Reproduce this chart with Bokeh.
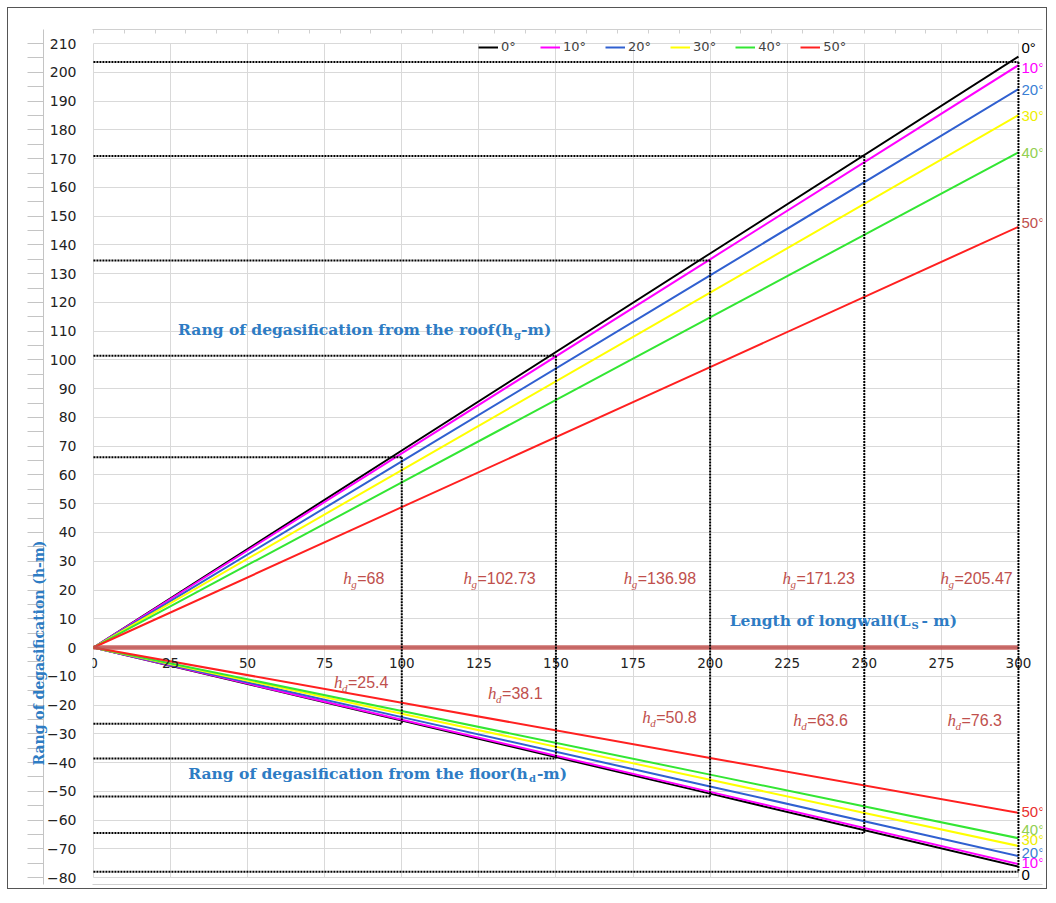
from bokeh.plotting import figure
from bokeh.models import (LinearAxis, SingleIntervalTicker, FixedTicker, Grid, Range1d,
                          Title, Legend, LegendItem, CustomJSTickFormatter)
from bokeh.core.properties import value
from bokeh.embed import file_html
from bokeh.resources import INLINE

# ---------------- data ----------------
angles = ["0°", "10°", "20°", "30°", "40°", "50°"]
line_colors = ["#000000", "#ff00ff", "#3060d0", "#ffff00", "#33e633", "#ff2020"]

length_L = [0, 100, 200, 300]
roof_0 = [0, 68.5, 137.0, 205.5]
roof_10 = [0, 67.5, 135.0, 202.5]
roof_20 = [0, 64.7, 129.4, 194.2]
roof_30 = [0, 61.7, 123.4, 185.1]
roof_40 = [0, 57.4, 114.8, 172.2]
roof_50 = [0, 48.8, 97.5, 146.3]
floor_0 = [0, -25.4, -50.8, -76.2]
floor_10 = [0, -25.1, -50.2, -75.3]
floor_20 = [0, -24.2, -48.3, -72.5]
floor_30 = [0, -23.0, -46.0, -69.0]
floor_40 = [0, -22.1, -44.2, -66.3]
floor_50 = [0, -19.2, -38.4, -57.5]
roof_series = [roof_0, roof_10, roof_20, roof_30, roof_40, roof_50]
floor_series = [floor_0, floor_10, floor_20, floor_30, floor_40, floor_50]

mark_L = [100, 150, 200, 250, 300]
hg_values = ["68", "102.73", "136.98", "171.23", "205.47"]
hd_values = ["25.4", "38.1", "50.8", "63.6", "76.3"]
roof_mark_levels = [66.2, 101.5, 134.6, 170.9, 203.6]
floor_mark_levels = [-26.5, -38.6, -51.8, -64.5, -78.0]

# annotation anchors
hg_label_x = [81, 120, 172, 223.5, 274.7]
hg_label_y = [24.0, 24.0, 24.0, 24.0, 24.0]
hd_label_x = [78, 128, 178, 227, 277]
hd_label_y = [-12.2, -16.0, -24.4, -25.4, -25.4]

top_end_labels = ["0°", "10°", "20°", "30°", "40°", "50°"]
top_end_y = [208.7, 201.8, 194.1, 185.0, 172.3, 147.9]
top_end_colors = ["#000000", "#ff00ff", "#3a7fd5", "#eeee00", "#92d050", "#c0504d"]
bot_end_labels = ["0", "10°", "20°", "30°", "40°", "50°"]
bot_end_y = [-79.0, -74.7, -71.2, -66.8, -63.3, -57.0]
bot_end_colors = ["#000000", "#ff00ff", "#3a7fd5", "#eeee00", "#92d050", "#e8302f"]

BLUE = "#2e7cc4"
LABEL_RED = "#c0504d"

# ---------------- figure ----------------
p = figure(width=1040, height=882,
           x_range=Range1d(-0.3, 307.8), y_range=Range1d(-82.4, 214.9),
           x_axis_location=None, y_axis_location=None,
           output_backend="svg", toolbar_location=None,
           min_border_left=84, min_border_right=6, min_border_top=21, min_border_bottom=6)
p.margin = (7, 0, 0, 7)
p.outline_line_color = None
p.xgrid.visible = False
p.ygrid.visible = False
p.background_fill_color = "white"
p.border_fill_color = "white"
p.styles = {"border": "1px solid #555555"}

blank = CustomJSTickFormatter(code="return ''")

# grids limited to the plot area
xg = Grid(dimension=0, ticker=SingleIntervalTicker(interval=25), grid_line_color="#d9d9d9",
          cross_bounds=(-80, 210))
yg = Grid(dimension=1, ticker=SingleIntervalTicker(interval=10), grid_line_color="#d9d9d9",
          cross_bounds=(0, 300))
p.add_layout(xg)
p.add_layout(yg)

# left: tick labels, grey line with outward ticks, then the title (pulled over the ticks)
y_lab = LinearAxis(ticker=SingleIntervalTicker(interval=10), axis_line_color=None,
                   major_tick_out=0, major_tick_in=0, minor_tick_line_color=None,
                   major_label_standoff=12, major_label_text_font="DejaVu Sans",
                   major_label_text_font_size="14px", major_label_text_color="#222222")
p.add_layout(y_lab, "left")
y_line = LinearAxis(ticker=SingleIntervalTicker(interval=5), formatter=blank,
                    axis_line_color="#c4c4c4", major_tick_line_color="#c4c4c4",
                    major_tick_out=16, major_tick_in=0, minor_tick_line_color=None,
                    major_label_standoff=0)
p.add_layout(y_line, "left")
p.add_layout(Title(text="Rang of degasification (h-m)", align="left", offset=119,
                   standoff=-38, text_font="DejaVu Serif", text_font_style="bold",
                   text_font_size="14px", text_color=BLUE), "left")

# top: grey line with small ticks, x labels fixed on the zero line
t_line = LinearAxis(ticker=SingleIntervalTicker(interval=10), formatter=blank,
                    axis_line_color="#d0d0d0", major_tick_line_color="#d0d0d0",
                    major_tick_in=4, major_tick_out=0, minor_tick_line_color=None,
                    major_label_standoff=0)
p.add_layout(t_line, "above")
x_lab = LinearAxis(ticker=SingleIntervalTicker(interval=25), fixed_location=0,
                   axis_line_color=None, major_tick_out=0, major_tick_in=0,
                   minor_tick_line_color=None, major_label_standoff=-24,
                   major_label_text_font="DejaVu Sans", major_label_text_font_size="13.5px",
                   major_label_text_color="#222222")
p.add_layout(x_lab, "above")

# bottom grey line
b_line = LinearAxis(ticker=FixedTicker(ticks=[]), axis_line_color="#d0d0d0",
                    major_tick_line_color=None, minor_tick_line_color=None,
                    major_label_standoff=0)
p.add_layout(b_line, "below")

# ---------------- series ----------------
top_renderers = []
for ys, c in zip(roof_series, line_colors):
    top_renderers.append(p.line(length_L, ys, line_color=c, line_width=2))
for ys, c in zip(floor_series, line_colors):
    p.line(length_L, ys, line_color=c, line_width=2)

# zero line
p.segment(x0=[length_L[0]], y0=[0], x1=[length_L[-1]], y1=[0],
          line_color="#c0504d", line_width=4.5, line_alpha=0.85)

# dotted guide lines
n = len(mark_L)
dot = dict(line_color="black", line_dash="2 1", line_width=2)
p.segment(x0=[0] * n, y0=roof_mark_levels, x1=mark_L, y1=roof_mark_levels, **dot)
p.segment(x0=[0] * n, y0=floor_mark_levels, x1=mark_L, y1=floor_mark_levels, **dot)
p.segment(x0=mark_L, y0=roof_mark_levels, x1=mark_L, y1=floor_mark_levels, **dot)

# end labels
p.text(x=[length_L[-1]] * 6, y=top_end_y, text=top_end_labels, text_color=top_end_colors,
       text_align="left", text_baseline="middle", x_offset=3,
       text_font=value("Liberation Sans"), text_font_size="15px")
p.text(x=[length_L[-1]] * 6, y=bot_end_y, text=bot_end_labels, text_color=bot_end_colors,
       text_align="left", text_baseline="middle", x_offset=3,
       text_font=value("Liberation Sans"), text_font_size="15px")

# h_g and h_d annotations
def sub_label(xs, ys, sub, vals):
    k = len(xs)
    p.text(x=xs, y=ys, text=["h"] * k, text_color=LABEL_RED, text_align="left",
           text_baseline="middle", text_font=value("Liberation Serif"),
           text_font_style="italic", text_font_size="17px")
    p.text(x=xs, y=ys, text=[sub] * k, text_color=LABEL_RED, text_align="left",
           text_baseline="middle", x_offset=8, y_offset=5, text_font=value("Liberation Serif"),
           text_font_style="italic", text_font_size="11px")
    p.text(x=xs, y=ys, text=["=" + v for v in vals], text_color=LABEL_RED, text_align="left",
           text_baseline="middle", x_offset=14, text_font=value("Liberation Sans"),
           text_font_size="16px")

sub_label(hg_label_x, hg_label_y, "g", hg_values)
sub_label(hd_label_x, hd_label_y, "d", hd_values)

# blue titles inside the plot
def blue_title(x, y, head, sub, tail, tail_off):
    p.text(x=[x], y=[y], text=[head], text_color=BLUE, text_align="right",
           text_baseline="middle", text_font=value("DejaVu Serif"), text_font_style="bold",
           text_font_size="15.5px")
    p.text(x=[x], y=[y], text=[sub], text_color=BLUE, text_align="left",
           text_baseline="middle", x_offset=1, y_offset=5, text_font=value("DejaVu Serif"),
           text_font_style="bold", text_font_size="10px")
    p.text(x=[x], y=[y], text=[tail], text_color=BLUE, text_align="left",
           text_baseline="middle", x_offset=tail_off, text_font=value("DejaVu Serif"),
           text_font_style="bold", text_font_size="15.5px")

blue_title(136.1, 110.5, "Rang of degasification from the roof(h", "g", "-m)", 8)
blue_title(140.9, -43.8, "Rang of degasification from the floor(h", "d", "-m)", 9)
blue_title(265.0, 9.4, "Length of longwall(L", "S", " - m)", 11)

# legend
legend = Legend(items=[LegendItem(label=a, renderers=[r]) for a, r in zip(angles, top_renderers)],
                orientation="horizontal", location=(386, 830), padding=0, margin=0,
                spacing=19, glyph_width=20, glyph_height=12, label_standoff=3,
                label_text_font="DejaVu Sans", label_text_font_size="13px",
                background_fill_alpha=0, border_line_color=None)
p.add_layout(legend)

open("out.html", "w").write(file_html(p, INLINE))
